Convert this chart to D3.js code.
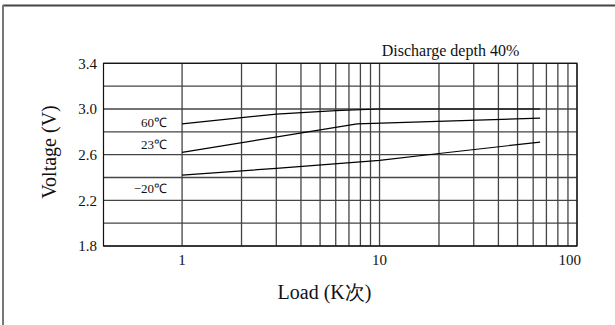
<!DOCTYPE html>
<html>
<head>
<meta charset="utf-8">
<script src="https://cdn.jsdelivr.net/npm/d3@7"></script>
<style>
  body { margin: 0; background: #fff; }
  text { font-family: "Liberation Serif", "Times New Roman", serif; fill: #111; }
</style>
</head>
<body>
<svg id="chart" width="615" height="325"></svg>
<script>
// Tension de décharge selon la charge, à trois températures
var loads_60 = [1, 3, 6, 10, 65];
var volts_60 = [2.87, 2.955, 2.985, 3.0, 3.0];

var loads_23 = [1, 7.7, 65];
var volts_23 = [2.62, 2.87, 2.92];

var loads_m20 = [1, 3, 10, 20, 65];
var volts_m20 = [2.42, 2.48, 2.55, 2.61, 2.71];

var series_names = ["60℃", "23℃", "−20℃"];

var y_ticks = [1.8, 2.2, 2.6, 3.0, 3.4];
var y_grid = [1.8, 2.0, 2.2, 2.4, 2.6, 2.8, 3.0, 3.2, 3.4];
var x_ticks = [1, 10, 100];
var x_grid = [1, 2, 3, 4, 5, 6, 7, 8, 9, 10, 20, 30, 40, 50, 60, 70, 80, 90, 100];

var svg = d3.select("#chart");

// Cadre extérieur (haut et gauche)
svg.append("line").attr("x1", 3).attr("y1", 5.5).attr("x2", 615).attr("y2", 5.5)
    .attr("stroke", "#444").attr("stroke-width", 2);
svg.append("line").attr("x1", 3).attr("y1", 5).attr("x2", 3).attr("y2", 325)
    .attr("stroke", "#777").attr("stroke-width", 2);

var x = d3.scaleLog().domain([0.4, 100]).range([103.5, 577]);
var y = d3.scaleLinear().domain([1.8, 3.4]).range([246, 63.3]);

var g = svg.append("g");

// Grille horizontale
g.selectAll(".hgrid").data(y_grid).enter().append("line")
    .attr("x1", x(0.4)).attr("x2", x(100))
    .attr("y1", d => y(d)).attr("y2", d => y(d))
    .attr("stroke", "#444").attr("stroke-width", 1.3);

// Grille verticale
g.selectAll(".vgrid").data(x_grid).enter().append("line")
    .attr("x1", d => x(d)).attr("x2", d => x(d))
    .attr("y1", y(1.8)).attr("y2", y(3.4))
    .attr("stroke", "#444").attr("stroke-width", 1.3);

// Bordure du graphique
g.append("rect")
    .attr("x", x(0.4)).attr("y", y(3.4))
    .attr("width", x(100) - x(0.4)).attr("height", y(1.8) - y(3.4))
    .attr("fill", "none").attr("stroke", "#111").attr("stroke-width", 1.2);

// Courbes
var line = d3.line().x(d => x(d[0])).y(d => y(d[1]));
var series = [d3.zip(loads_60, volts_60), d3.zip(loads_23, volts_23), d3.zip(loads_m20, volts_m20)];
g.selectAll(".curve").data(series).enter().append("path")
    .attr("d", line)
    .attr("fill", "none").attr("stroke", "#000").attr("stroke-width", 1.2);

// Étiquettes des températures
var label_y = [127, 149, 193];
g.selectAll(".serlab").data(series_names).enter().append("text")
    .attr("x", 167).attr("y", (d, i) => label_y[i])
    .attr("text-anchor", "end").attr("font-size", "13px")
    .text(d => d);

// Étiquettes de l'axe Y
g.selectAll(".ylab").data(y_ticks).enter().append("text")
    .attr("x", 97).attr("y", d => y(d)).attr("dy", "0.35em")
    .attr("text-anchor", "end").attr("font-size", "15px")
    .text(d => d.toFixed(1));

// Étiquettes de l'axe X
g.selectAll(".xlab").data(x_ticks).enter().append("text")
    .attr("x", d => d === 100 ? x(d) + 4 : x(d)).attr("y", 265)
    .attr("text-anchor", d => d === 100 ? "end" : "middle").attr("font-size", "15px")
    .text(d => d);

// Titres
svg.append("text")
    .attr("transform", "translate(56,152) rotate(-90)")
    .attr("text-anchor", "middle").attr("font-size", "20px")
    .text("Voltage (V)");

svg.append("text")
    .attr("x", 324.5).attr("y", 299)
    .attr("text-anchor", "middle").attr("font-size", "20px")
    .text("Load (K次)");

svg.append("text")
    .attr("x", 450.5).attr("y", 56)
    .attr("text-anchor", "middle").attr("font-size", "16px")
    .text("Discharge depth 40%");
</script>
</body>
</html>
